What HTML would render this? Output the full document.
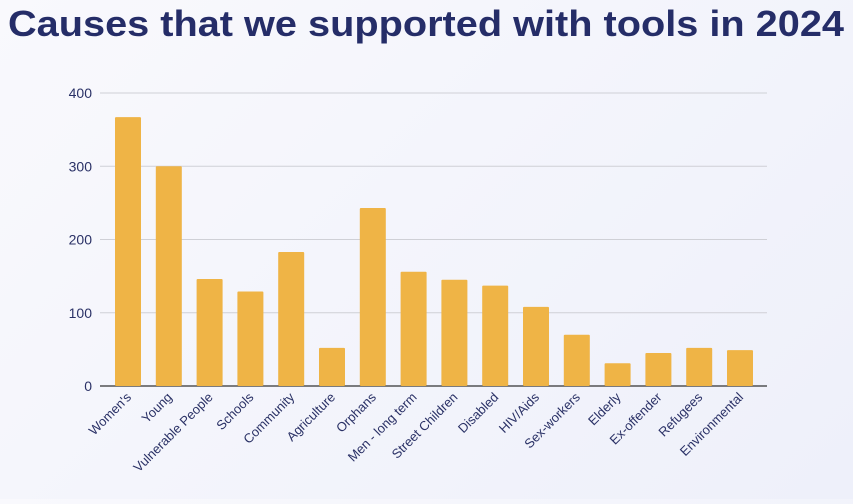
<!DOCTYPE html>
<html><head><meta charset="utf-8"><style>
html,body{margin:0;padding:0;}
body{width:853px;height:499px;overflow:hidden;background:linear-gradient(135deg,#f9f9fd 0%,#eef0fa 100%);font-family:"Liberation Sans",sans-serif;}
</style></head><body>
<svg id="chart" width="853" height="499" viewBox="0 0 853 499" xmlns="http://www.w3.org/2000/svg">
<text x="8" y="36" font-family="Liberation Sans, sans-serif" font-weight="bold" font-size="36" fill="#252d68" textLength="836" lengthAdjust="spacingAndGlyphs">Causes that we supported with tools in 2024</text>
<g id="grid"></g><g id="bars"></g><g id="labels"></g>
</svg>
<script>
const categories=["Women's","Young","Vulnerable People","Schools","Community","Agriculture","Orphans","Men - long term","Street Children","Disabled","HIV/Aids","Sex-workers","Elderly","Ex-offender","Refugees","Environmental"];
const values=[367,300,146,129,183,52,243,156,145,137,108,70,31,45,52,49];
const yTicks=[0,100,200,300,400];
const NS="http://www.w3.org/2000/svg";
const y0=386,yTop=93,yMax=400,bandStart=107.6,band=40.8,barW=26;
const y=v=>y0-(v/yMax)*(y0-yTop);
const x=i=>bandStart+band*i+band/2;
function mk(t,a,p){const e=document.createElementNS(NS,t);for(const k in a)e.setAttribute(k,a[k]);p.appendChild(e);return e;}
const grid=document.getElementById('grid'),bars=document.getElementById('bars'),labels=document.getElementById('labels');
yTicks.forEach(t=>{
 const l=mk('line',{x1:100,x2:767,y1:y(t),y2:y(t),stroke:t===0?'#333':'#cfd0d6','stroke-width':t===0?1.3:1},grid);
 
 
 const tx=mk('text',{x:92,y:y(t)+5,'text-anchor':'end','font-size':14,fill:'#2a3166'},grid);
 tx.textContent=t;
 
 
});
values.forEach((v,i)=>{
 const r=mk('rect',{x:x(i)-barW/2,y:y(v),width:barW,height:y0-y(v),fill:'#efb446',rx:1},bars);
 
 
 const cx=x(i)+4,cy=398;
 const t=mk('text',{x:cx,y:cy,'text-anchor':'end','font-size':13,fill:'#2a3166',transform:`rotate(-45 ${cx} ${cy})`},labels);
 t.textContent=categories[i];
 
 
});
</script>
</body></html>
